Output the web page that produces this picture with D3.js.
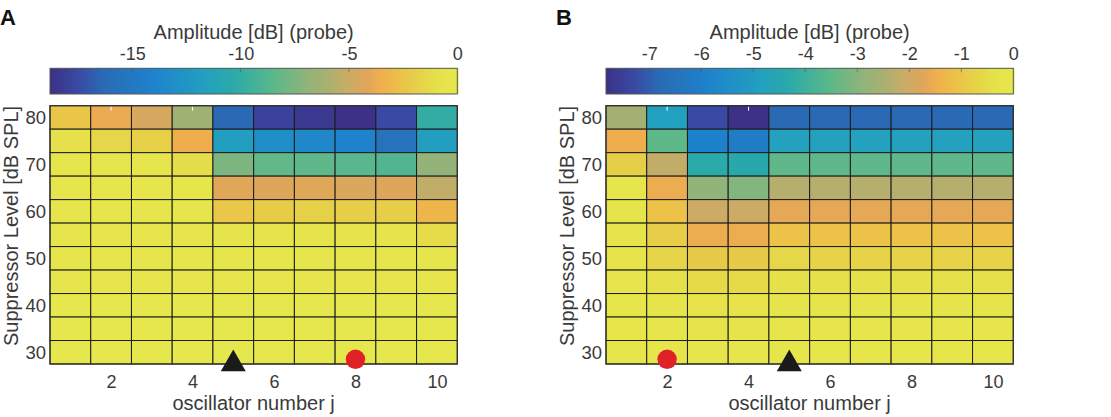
<!DOCTYPE html>
<html>
<head>
<meta charset="utf-8">
<script src="https://cdn.jsdelivr.net/npm/d3@7"></script>
<style>
  body { margin: 0; background: #fff; }
  text { font-family: "Liberation Sans", Arial, sans-serif; fill: #3a3a3a; }
</style>
</head>
<body>
<svg id="chart" width="1111" height="417"></svg>
<script>
// --- data (rows go from 80 dB down to 30 dB)
const levels = [80, 75, 70, 65, 60, 55, 50, 45, 40, 35, 30]
const oscillators = [1, 2, 3, 4, 5, 6, 7, 8, 9, 10]
const xTicks = [2, 4, 6, 8, 10]
const yTicks = [30, 40, 50, 60, 70, 80]

const cbarTicksA = [-15, -10, -5, 0]
const cbarMinA = -18.8
const ampA = [
  [-2.4, -3.8, -4.5, -6.4, -16.4, -17.9, -18.4, -18.8, -17.5, -10.0],
  [-0.8, -1.5, -1.9, -3.6, -11.7, -13.2, -13.7, -14.1, -15.6, -11.8],
  [-0.3, -0.3, -0.4, -1.1, -7.5, -8.3, -8.4, -8.6, -8.8, -6.8],
  [-0.2, -0.2, -0.2, -0.25, -4.1, -4.2, -4.1, -4.4, -4.2, -5.3],
  [-0.2, -0.2, -0.2, -0.2, -2.35, -2.1, -1.9, -2.0, -2.0, -3.2],
  [-0.2, -0.2, -0.2, -0.2, -0.5, -0.5, -0.5, -0.5, -0.5, -1.2],
  [-0.2, -0.2, -0.2, -0.2, -0.2, -0.2, -0.2, -0.2, -0.2, -0.4],
  [-0.2, -0.2, -0.2, -0.2, -0.2, -0.2, -0.2, -0.2, -0.2, -0.2],
  [-0.15, -0.15, -0.15, -0.15, -0.15, -0.15, -0.15, -0.15, -0.15, -0.15],
  [-0.1, -0.1, -0.1, -0.1, -0.1, -0.1, -0.1, -0.1, -0.1, -0.1],
  [-0.1, -0.1, -0.1, -0.1, -0.1, -0.1, -0.1, -0.1, -0.1, -0.1],
]
const triangleA = 5
const dotA = 8

const cbarTicksB = [-7, -6, -5, -4, -3, -2, -1, 0]
const cbarMinB = -7.83
const ampB = [
  [-2.6, -4.85, -7.3, -7.8, -6.8, -6.8, -6.8, -6.8, -6.8, -6.8],
  [-1.5, -3.5, -5.9, -6.1, -4.8, -4.8, -4.8, -4.8, -4.8, -4.8],
  [-0.8, -2.2, -4.3, -4.4, -3.5, -3.5, -3.5, -3.5, -3.5, -3.5],
  [-0.15, -1.55, -2.9, -3.05, -2.35, -2.35, -2.35, -2.35, -2.35, -2.35],
  [-0.2, -1.1, -2.05, -2.05, -1.65, -1.65, -1.65, -1.65, -1.65, -1.65],
  [-0.25, -0.85, -1.55, -1.55, -1.1, -1.1, -1.1, -1.1, -1.1, -1.1],
  [-0.25, -0.65, -0.95, -0.95, -0.6, -0.7, -0.7, -0.7, -0.7, -0.7],
  [-0.15, -0.35, -0.55, -0.55, -0.35, -0.35, -0.35, -0.35, -0.35, -0.35],
  [-0.1, -0.2, -0.3, -0.3, -0.2, -0.2, -0.2, -0.2, -0.2, -0.2],
  [-0.1, -0.15, -0.2, -0.2, -0.15, -0.15, -0.15, -0.15, -0.15, -0.15],
  [-0.1, -0.1, -0.15, -0.15, -0.1, -0.1, -0.1, -0.1, -0.1, -0.1],
]
const triangleB = 5
const dotB = 2

// parula-like colormap, a bit washed out like the printed figure
const cmapStops = [0, 0.07, 0.13, 0.25, 0.38, 0.45, 0.55, 0.63, 0.68, 0.73, 0.78, 0.81, 0.86, 0.9, 0.95, 1]
const cmapColors = ['#3b3186', '#3a4aa4', '#2a6ab5', '#1e82cc', '#22a0c0', '#2aaaa8', '#5cb88a', '#90b47a',
  '#a8b070', '#c8ac66', '#e0a65a', '#f0ae4c', '#ecc248', '#e6d048', '#e6e04a', '#e6e84c']
const cmap = d3.scaleLinear().domain(cmapStops).range(cmapColors).interpolate(d3.interpolateRgb).clamp(true)

const svg = d3.select('#chart')

const drawPanel = ({left, letter, amp, cbarMin, cbarTicks, tri, dot}) => {
  const width = 407.3
  const top = 105.7
  const bottom = 364
  const x = d3.scaleLinear().domain([0.5, 10.5]).range([left, left + width])
  const y = d3.scaleLinear().domain([27.5, 82.5]).range([bottom, top])
  const t = d3.scaleLinear().domain([cbarMin, 0]).range([0, 1])
  const g = svg.append('g')

  // panel letter
  g.append('text')
    .attr('x', left - 50)
    .attr('y', 25)
    .style('font-size', '22px')
    .style('font-weight', 'bold')
    .style('fill', '#111')
    .text(letter)

  // --- colorbar
  const cb = d3.scaleLinear().domain([cbarMin, 0]).range([left, left + width])
  const cbTop = 68.3
  const cbH = 25.7
  const steps = d3.range(0, Math.ceil(width))
  g.append('g').selectAll('rect')
    .data(steps)
    .join('rect')
    .attr('x', (d) => left + d)
    .attr('y', cbTop)
    .attr('width', 1.5)
    .attr('height', cbH)
    .attr('fill', (d) => cmap(t(cb.invert(left + d + 0.5))))
  g.append('rect')
    .attr('x', left).attr('y', cbTop)
    .attr('width', width).attr('height', cbH)
    .attr('fill', 'none').attr('stroke', '#555').attr('stroke-width', 1)
  g.append('g').selectAll('line')
    .data(cbarTicks.filter((d) => d < 0))
    .join('line')
    .attr('x1', (d) => cb(d)).attr('x2', (d) => cb(d))
    .attr('y1', cbTop).attr('y2', cbTop + 4)
    .attr('stroke', '#555').attr('stroke-opacity', 0.6)

  const cbAxis = g.append('g')
    .attr('transform', `translate(0,${cbTop})`)
    .call(d3.axisTop(cb).tickValues(cbarTicks).tickSize(0).tickPadding(8).tickFormat((d) => String(d)))
  cbAxis.select('.domain').remove()
  cbAxis.selectAll('text').style('font-size', '18px').attr('font-family', null)

  g.append('text')
    .attr('x', left + width / 2)
    .attr('y', 38.5)
    .attr('text-anchor', 'middle')
    .style('font-size', '20px')
    .text('Amplitude [dB] (probe)')

  // --- heatmap cells
  const cells = []
  levels.forEach((lv, i) => {
    oscillators.forEach((j, k) => cells.push({lv, j, v: amp[i][k]}))
  })
  g.append('g').selectAll('rect')
    .data(cells)
    .join('rect')
    .attr('x', (d) => x(d.j - 0.5))
    .attr('y', (d) => y(d.lv + 2.5))
    .attr('width', (d) => x(d.j + 0.5) - x(d.j - 0.5))
    .attr('height', (d) => y(d.lv - 2.5) - y(d.lv + 2.5))
    .attr('fill', (d) => cmap(t(d.v)))
    .attr('stroke', '#1c1c1c')
    .attr('stroke-width', 1)

  // faint white ticks at the plot edges
  g.append('g').selectAll('line')
    .data(xTicks.slice(0, 2))
    .join('line')
    .attr('x1', (d) => x(d)).attr('x2', (d) => x(d))
    .attr('y1', top + 1).attr('y2', top + 5)
    .attr('stroke', '#fff').attr('stroke-width', 1)

  g.append('rect')
    .attr('x', left).attr('y', top)
    .attr('width', width).attr('height', bottom - top)
    .attr('fill', 'none').attr('stroke', '#333').attr('stroke-width', 1.2)

  // axes
  const yAxis = g.append('g')
    .attr('transform', `translate(${left},0)`)
    .call(d3.axisLeft(y).tickValues(yTicks).tickSize(0).tickPadding(4))
  yAxis.select('.domain').remove()
  yAxis.selectAll('text').style('font-size', '18.5px').attr('font-family', null)

  const xAxis = g.append('g')
    .attr('transform', `translate(0,${bottom})`)
    .call(d3.axisBottom(x).tickValues(xTicks).tickSize(0).tickPadding(11))
  xAxis.select('.domain').remove()
  xAxis.selectAll('text').style('font-size', '18px').attr('font-family', null)

  g.append('text')
    .attr('x', left + width / 2)
    .attr('y', 409.5)
    .attr('text-anchor', 'middle')
    .style('font-size', '20px')
    .text('oscillator number j')

  g.append('text')
    .attr('transform', `translate(${left - 32},${226}) rotate(-90)`)
    .attr('text-anchor', 'middle')
    .style('font-size', '20px')
    .text('Suppressor Level [dB SPL]')

  // markers: probe (triangle) and suppressor (dot)
  g.append('path')
    .attr('d', d3.symbol(d3.symbolTriangle, 270)())
    .attr('transform', `translate(${x(tri)},${y(27.5)})`)
    .attr('fill', '#1a1a1a')
  g.append('circle')
    .attr('cx', x(dot))
    .attr('cy', y(28.5))
    .attr('r', 9.7)
    .attr('fill', '#e02228')
}

drawPanel({left: 50, letter: 'A', amp: ampA, cbarMin: cbarMinA, cbarTicks: cbarTicksA, tri: triangleA, dot: dotA})
drawPanel({left: 606, letter: 'B', amp: ampB, cbarMin: cbarMinB, cbarTicks: cbarTicksB, tri: triangleB, dot: dotB})
</script>
</body>
</html>
